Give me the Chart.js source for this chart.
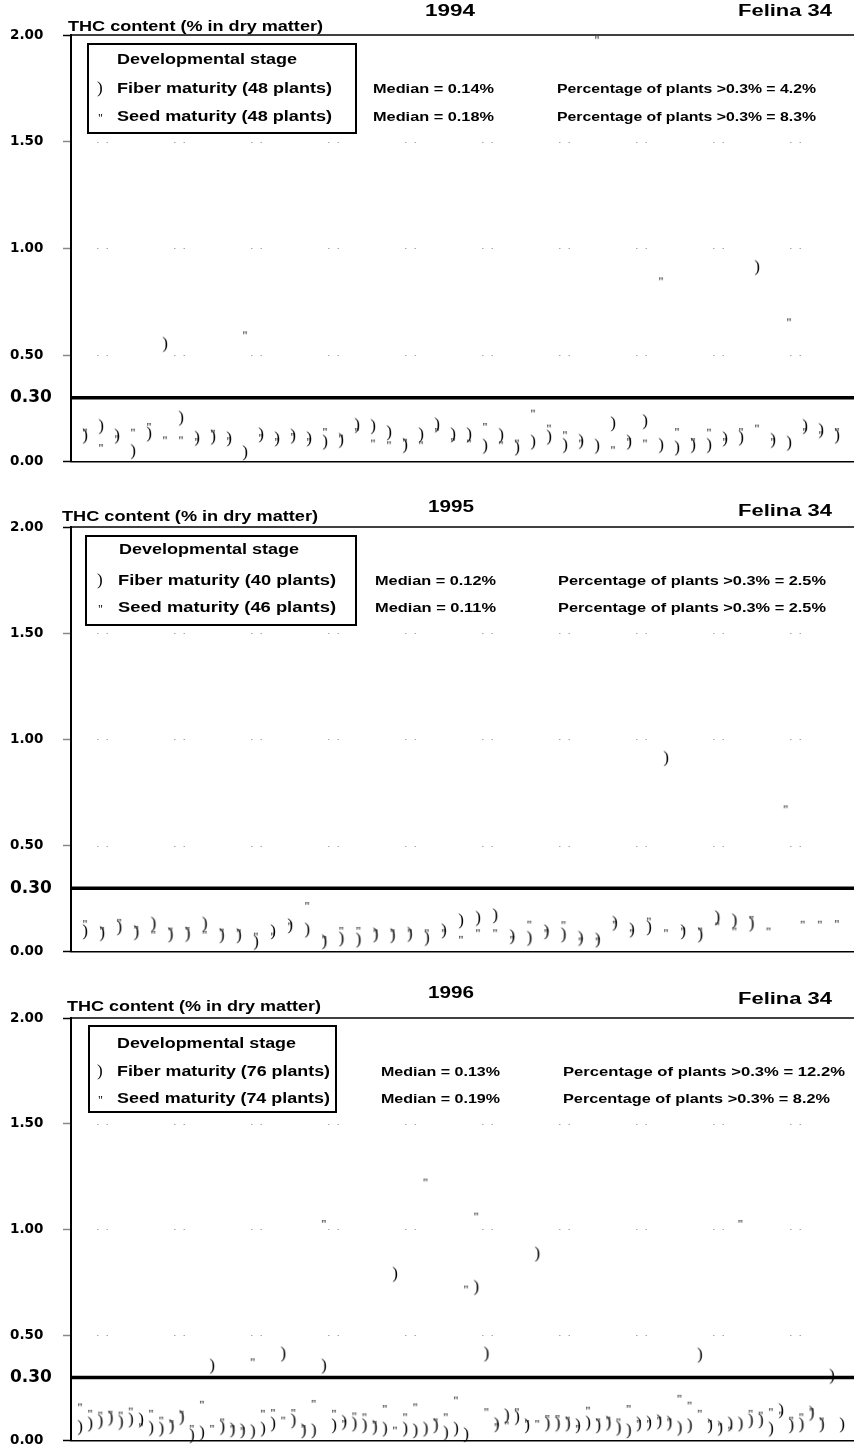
<!DOCTYPE html>
<html>
<head>
<meta charset="utf-8">
<script src="https://cdn.jsdelivr.net/npm/chart.js@4.4.0/dist/chart.umd.min.js"></script>
<style>
  body { margin: 0; width: 854px; height: 1454px; position: relative; overflow: hidden; background: #fff;
         font-family: "Liberation Sans", Arial, sans-serif; font-weight: bold; color: #000; }
  .panel { position: absolute; left: 0; }
  .t { position: absolute; white-space: nowrap; line-height: 1; transform-origin: 0 50%; }
  .box { position: absolute; border: 2px solid #000; box-sizing: border-box; }
  .mk { position: absolute; font-family: "Liberation Serif", serif; font-weight: normal; line-height: 1; }
</style>
</head>
<body>
<div class="panel" style="top:0px"><canvas id="c0" width="854" height="473"></canvas></div>
<div class="panel" style="top:492px"><canvas id="c1" width="854" height="471"></canvas></div>
<div class="panel" style="top:983px"><canvas id="c2" width="854" height="469"></canvas></div>
<script>
// THC content, one value per plant position (null = no plant)
const fiber1994 = [0.12, 0.165, 0.12, 0.048, 0.13, 0.55, 0.204, 0.11, 0.115, 0.107, 0.042, 0.126,
  0.107, 0.12, 0.107, 0.092, 0.10, 0.17, 0.165, 0.136, 0.076, 0.126, 0.172, 0.126,
  0.126, 0.073, 0.123, 0.064, 0.092, 0.115, 0.076, 0.095, 0.073, 0.178, 0.092, 0.188,
  0.076, 0.064, 0.076, 0.076, 0.107, 0.111, 0.91, 0.10, 0.087, 0.165, 0.146, 0.12];
const seed1994 = [0.151, 0.079, 0.12, 0.151, 0.178, 0.115, 0.115, 0.107, 0.146, 0.111, 0.607, 0.126,
  0.107, 0.131, 0.107, 0.154, 0.123, 0.154, 0.10, 0.092, 0.104, 0.092, 0.154, 0.107,
  0.10, 0.178, 0.092, 0.10, 0.24, 0.17, 0.139, 0.10, 1.99, 0.069, 0.107, 0.10,
  0.86, 0.154, 0.107, 0.151, 0.107, 0.154, 0.17, 0.107, 0.668, 0.154, 0.139, 0.154];

const fiber1995 = [0.094, 0.086, 0.113, 0.09, 0.13, 0.079, 0.082, 0.13, 0.076, 0.076, 0.044, 0.094,
  0.122, 0.102, 0.047, 0.06, 0.055, 0.079, 0.076, 0.082, 0.063, 0.098, 0.145, 0.157,
  0.169, 0.071, 0.063, 0.094, 0.079, 0.063, 0.055, 0.134, 0.102, 0.113, 0.91, 0.094,
  0.079, 0.16, 0.145, 0.13, null, null, null, null, null];
const seed1995 = [0.145, 0.113, 0.151, 0.118, 0.094, 0.11, 0.113, 0.094, 0.105, 0.102, 0.086, 0.086,
  0.134, 0.23, 0.071, 0.113, 0.113, 0.102, 0.102, 0.102, 0.102, 0.102, 0.071, 0.102,
  0.102, 0.071, 0.142, 0.102, 0.14, 0.063, 0.063, 0.142, 0.102, 0.157, 0.102, 0.11,
  0.11, 0.134, 0.11, 0.165, 0.11, 0.685, 0.142, 0.142, 0.145];

const fiber1996 = [0.063, 0.079, 0.09, 0.106, 0.087, 0.098, 0.098, 0.059, 0.055, 0.067, 0.11, 0.024,
  0.036, 0.353, 0.063, 0.051, 0.047, 0.043, 0.055, 0.079, 0.41, 0.094, 0.047, 0.047,
  0.353, 0.071, 0.087, 0.079, 0.071, 0.063, 0.055, 0.787, 0.055, 0.047, 0.055, 0.071,
  0.036, 0.055, 0.028, 0.725, 0.41, 0.076, 0.118, 0.11, 0.071, 0.883, 0.079, 0.079,
  0.079, 0.071, 0.083, 0.071, 0.083, 0.059, 0.047, 0.079, 0.083, 0.09, 0.083, 0.059,
  0.071, 0.405, 0.071, 0.059, 0.079, 0.079, 0.094, 0.094, 0.055, 0.142, 0.071, 0.075,
  0.13, 0.075, 0.305, 0.075];
const seed1996 = [0.173, 0.142, 0.134, 0.138, 0.134, 0.153, 0.079, 0.142, 0.11, 0.094, 0.138, 0.071,
  0.185, 0.071, 0.102, 0.07, 0.06, 0.386, 0.142, 0.146, 0.11, 0.146, 0.071, 0.189,
  1.04, 0.142, 0.094, 0.13, 0.126, 0.09, 0.165, 0.063, 0.126, 0.173, 1.236, 0.102,
  0.126, 0.205, 0.73, 1.075, 0.15, 0.079, 0.087, 0.15, 0.094, 0.094, 0.118, 0.118,
  0.11, 0.071, 0.157, 0.102, 0.11, 0.102, 0.165, 0.094, 0.094, 0.11, 0.102, 0.213,
  0.181, 0.142, 0.094, 0.079, 0.063, 1.04, 0.142, 0.134, 0.15, 0.134, 0.11, 0.126,
  0.15, 0.106, null, null];

const yTicks = [0, 0.3, 0.5, 1, 1.5, 2];
const gridValues = [0.5, 1, 1.5];
const limitValue = 0.3;

const years = ['1994', '1995', '1996'];
const variety = 'Felina 34';
const fiberPlants = [48, 40, 76];
const seedPlants = [48, 46, 74];
const fiberMedian = ['0.14', '0.12', '0.13'];
const seedMedian = ['0.18', '0.11', '0.19'];
const fiberOver = ['4.2', '2.5', '12.2'];
const seedOver = ['8.3', '2.5', '8.2'];

// page positions of the panel texts: [x, centre y, width]
const layout = [
  { title: [68, 26, 255], year: [425, 11, 50], variety: [738, 11, 94], box: [87, 43, 270, 91],
    stage: [117, 59, 180], rows: [88, 116], labelX: 117, labelW: 215, med: [373, 121], pct: [557, 259, 259],
    xMin: 0.125, xMax: 49.06 },
  { title: [62, 516, 256], year: [428, 507, 46], variety: [738, 511, 94], box: [85, 535, 272, 91],
    stage: [119, 549, 180], rows: [580, 607], labelX: 118, labelW: 218, med: [375, 121], pct: [558, 268, 268],
    xMin: 0.18, xMax: 46.0 },
  { title: [67, 1006, 254], year: [428, 993, 46], variety: [738, 999, 94], box: [88, 1025, 249, 88],
    stage: [117, 1043, 179], rows: [1071, 1098], labelX: 117, labelW: 213, med: [381, 119], pct: [563, 282, 267],
    xMin: 0.114, xMax: 77.18 }
];

function addText(str, x, cy, w, size) {
  const s = document.createElement('span');
  s.className = 't';
  s.textContent = str;
  s.style.fontSize = size + 'px';
  s.style.left = x + 'px';
  s.style.top = (cy - 0.49 * size) + 'px';
  document.body.appendChild(s);
  const nat = s.getBoundingClientRect().width;
  s.style.transform = 'scaleX(' + (w / nat) + ')';
}
function addMark(ch, x, cy, size) {
  const s = document.createElement('span');
  s.className = 'mk';
  s.textContent = ch;
  s.style.fontSize = size + 'px';
  s.style.left = (x - 3) + 'px';
  s.style.top = (cy - 0.55 * size) + 'px';
  document.body.appendChild(s);
}

function glyph(ch, size, w, h) {
  const c = document.createElement('canvas');
  c.width = w; c.height = h;
  const g = c.getContext('2d');
  g.font = size + 'px "Liberation Serif", serif';
  g.fillStyle = '#000';
  g.textAlign = 'center';
  const m = g.measureText(ch);
  g.fillText(ch, w / 2, h / 2 + (m.actualBoundingBoxAscent - m.actualBoundingBoxDescent) / 2);
  return c;
}
const fiberMark = glyph(')', 17, 8, 22);
const seedMark = glyph('"', 12, 8, 10);

const refLines = {
  id: 'refLines',
  beforeDatasetsDraw(chart) {
    const { ctx, chartArea: a, scales: { y } } = chart;
    ctx.save();
    ctx.strokeStyle = '#a8a8a8';
    ctx.lineWidth = 1;
    ctx.setLineDash([1.5, 8, 1.5, 66]);
    gridValues.forEach(v => {
      const py = Math.round(y.getPixelForValue(v)) + 0.5;
      ctx.beginPath(); ctx.moveTo(a.left + 26, py); ctx.lineTo(a.right, py); ctx.stroke();
    });
    ctx.setLineDash([]);
    ctx.strokeStyle = '#000';
    ctx.lineWidth = 3.5;
    let py = y.getPixelForValue(limitValue);
    ctx.beginPath(); ctx.moveTo(a.left, py); ctx.lineTo(a.right, py); ctx.stroke();
    ctx.lineWidth = 1.5;
    py = y.getPixelForValue(2);
    ctx.beginPath(); ctx.moveTo(a.left, py); ctx.lineTo(a.right, py); ctx.stroke();
    ctx.restore();
  }
};

const toPoints = arr => arr.map((v, i) => (v === null ? null : { x: i + 1, y: v })).filter(p => p);

function makePanel(k, fiber, seed) {
  const L = layout[k];
  new Chart(document.getElementById('c' + k), {
    type: 'scatter',
    data: {
      datasets: [
        { label: 'Fiber maturity', data: toPoints(fiber), pointStyle: fiberMark, pointRadius: 5, clip: false },
        { label: 'Seed maturity', data: toPoints(seed), pointStyle: seedMark, pointRadius: 3, clip: false }
      ]
    },
    options: {
      responsive: false,
      animation: false,
      events: [],
      layout: { autoPadding: false, padding: { left: 10, top: 35, right: 0, bottom: 10 } },
      plugins: { legend: { display: false }, tooltip: { enabled: false } },
      scales: {
        x: {
          type: 'linear', min: L.xMin, max: L.xMax,
          ticks: { display: false },
          grid: { display: false, drawTicks: false },
          border: { color: '#000', width: 1.5 }
        },
        y: {
          min: 0, max: 2,
          afterBuildTicks: s => { s.ticks = yTicks.map(v => ({ value: v })); },
          afterFit: s => { s.width = 61; },
          ticks: {
            crossAlign: 'far',
            color: '#000',
            callback: v => v.toFixed(2),
            font: c => ({ family: '"DejaVu Sans", sans-serif', weight: 'bold',
                          size: c.tick && c.tick.value === limitValue ? 17 : 13.5 })
          },
          grid: {
            drawOnChartArea: false, drawTicks: true, tickLength: 8, tickWidth: 1.5,
            tickColor: c => {
              const v = c.tick ? c.tick.value : -1;
              if (v === limitValue) return 'rgba(0,0,0,0)';
              return (v === 0 || v === 2) ? '#000' : '#888';
            }
          },
          border: { color: '#000', width: 2 }
        }
      }
    },
    plugins: [refLines]
  });

  addText('THC content (% in dry matter)', L.title[0], L.title[1], L.title[2], 14);
  addText(years[k], L.year[0], L.year[1], L.year[2], 16);
  addText(variety, L.variety[0], L.variety[1], L.variety[2], 16);
  const b = document.createElement('div');
  b.className = 'box';
  b.style.left = L.box[0] + 'px'; b.style.top = L.box[1] + 'px';
  b.style.width = L.box[2] + 'px'; b.style.height = L.box[3] + 'px';
  document.body.appendChild(b);
  addText('Developmental stage', L.stage[0], L.stage[1], L.stage[2], 14);
  addMark(')', 100, L.rows[0], 17);
  addMark('"', 101, L.rows[1] + 3, 12);
  addText('Fiber maturity (' + fiberPlants[k] + ' plants)', L.labelX, L.rows[0], L.labelW, 14);
  addText('Seed maturity (' + seedPlants[k] + ' plants)', L.labelX, L.rows[1], L.labelW, 14);
  addText('Median = ' + fiberMedian[k] + '%', L.med[0], L.rows[0], L.med[1], 13);
  addText('Median = ' + seedMedian[k] + '%', L.med[0], L.rows[1], L.med[1], 13);
  addText('Percentage of plants >0.3% = ' + fiberOver[k] + '%', L.pct[0], L.rows[0], L.pct[1], 13);
  addText('Percentage of plants >0.3% = ' + seedOver[k] + '%', L.pct[0], L.rows[1], L.pct[2], 13);
}

makePanel(0, fiber1994, seed1994);
makePanel(1, fiber1995, seed1995);
makePanel(2, fiber1996, seed1996);
</script>
</body>
</html>
